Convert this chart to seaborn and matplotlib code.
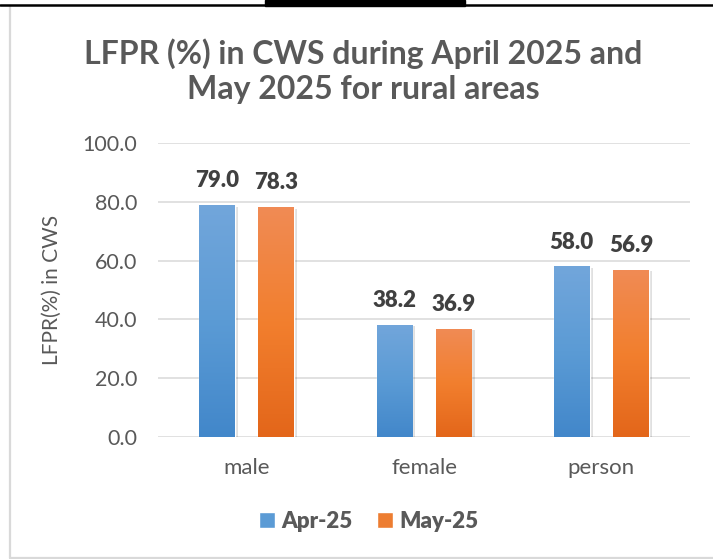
import numpy as np
import pandas as pd
import matplotlib
matplotlib.use("Agg")
import matplotlib.pyplot as plt
from matplotlib.colors import LinearSegmentedColormap
from matplotlib.lines import Line2D
from matplotlib.patches import Rectangle, Patch
from matplotlib.font_manager import FontProperties
import seaborn as sns

categories = ["male", "female", "person"]
apr_25 = [79.0, 38.2, 58.0]
may_25 = [78.3, 36.9, 56.9]
series_names = ["Apr-25", "May-25"]
yticks = [0, 20, 40, 60, 80, 100]
title = "LFPR (%) in CWS during April 2025 and\nMay 2025 for rural areas"
ylabel = "LFPR(%) in CWS"

df = pd.DataFrame({
    "category": categories * 2,
    "value": apr_25 + may_25,
    "month": [series_names[0]] * 3 + [series_names[1]] * 3,
})

sns.set_theme(style="white")
plt.rcParams["font.family"] = ["Lato", "DejaVu Sans"]

W, H = 713, 559
fig = plt.figure(figsize=(W / 100, H / 100), dpi=100)
ax = fig.add_axes([158 / W, 122 / H, (690 - 158) / W, (437 - 143) / H])

blue_mid, orange_mid = "#5B9BD5", "#ED7D31"
sns.barplot(data=df, x="category", y="value", hue="month",
            palette=[blue_mid, orange_mid], width=0.667, gap=0.4,
            ax=ax, legend=False, saturation=1, zorder=3)

ax.set_ylim(0, 100)
ax.set_xlim(-0.5, 2.5)
ax.set_yticks(yticks)
ax.set_yticklabels([f"{v:.1f}" for v in yticks])
ax.grid(axis="y", color="#D9D9D9", linewidth=1.1, zorder=0)
ax.grid(axis="x", visible=False)
for s in ax.spines.values():
    s.set_visible(False)
ax.tick_params(axis="y", length=0, pad=15, labelsize=15.5, labelcolor="#595959")
ax.tick_params(axis="x", length=0, pad=15, labelsize=16, labelcolor="#595959")
ax.set_xlabel("")
ax.set_ylabel(ylabel, fontsize=15, color="#595959")
ax.yaxis.set_label_coords((62 - 158) / (690 - 158), 0.5)

grads = [
    LinearSegmentedColormap.from_list("b", ["#4287CA", "#5B9BD5", "#72A6DB"]),
    LinearSegmentedColormap.from_list("o", ["#E3661A", "#F27F2E", "#F08B55"]),
]
grad = np.linspace(0, 1, 256).reshape(-1, 1)
for ci, cont in enumerate(ax.containers):
    for p in cont.patches:
        x, w, h = p.get_x(), p.get_width(), p.get_height()
        sh = Rectangle((x + 0.012, 0), w + 0.006, h - 0.6, color="#000000",
                       alpha=0.12, zorder=2, linewidth=0)
        ax.add_patch(sh)
        im = ax.imshow(grad, extent=[x, x + w, 0, h], origin="lower",
                       cmap=grads[ci], aspect="auto", zorder=4)
        im.set_clip_path(p)
    ax.bar_label(cont, fmt="%.1f", padding=10, fontsize=16,
                 fontweight="heavy", color="#404040")
ax.set_ylim(0, 100)
ax.set_xlim(-0.5, 2.5)

fig.text(363 / W, 1 - 71 / H, title, ha="center", va="center",
         fontsize=23, fontweight="bold", color="#595959", linespacing=1.25)

handles = [Patch(facecolor=blue_mid), Patch(facecolor=orange_mid)]
leg = fig.legend(handles, series_names, loc="center", bbox_to_anchor=(369 / W, 1 - 521 / H),
                 ncol=2, frameon=False,
                 prop=FontProperties(family=["Lato"], weight="heavy", size=16),
                 labelcolor="#595959", handlelength=0.7, handleheight=0.7,
                 handletextpad=0.3, columnspacing=1.1)

# chart frame
fig.add_artist(Line2D([10 / W, 10 / W], [1 - 6 / H, 1 - 557.5 / H],
                      color="#D9D9D9", linewidth=1.6, transform=fig.transFigure))
fig.add_artist(Line2D([10 / W, 1], [1 - 557.5 / H, 1 - 557.5 / H],
                      color="#D9D9D9", linewidth=1.6, transform=fig.transFigure))
fig.add_artist(Line2D([0, 1], [1 - 4.5 / H, 1 - 4.5 / H],
                      color="black", linewidth=1.8, transform=fig.transFigure))
fig.add_artist(Rectangle((265 / W, 1 - 6 / H), 200 / W, 6 / H, color="black",
                         transform=fig.transFigure))

fig.savefig("out.png", dpi=100)
